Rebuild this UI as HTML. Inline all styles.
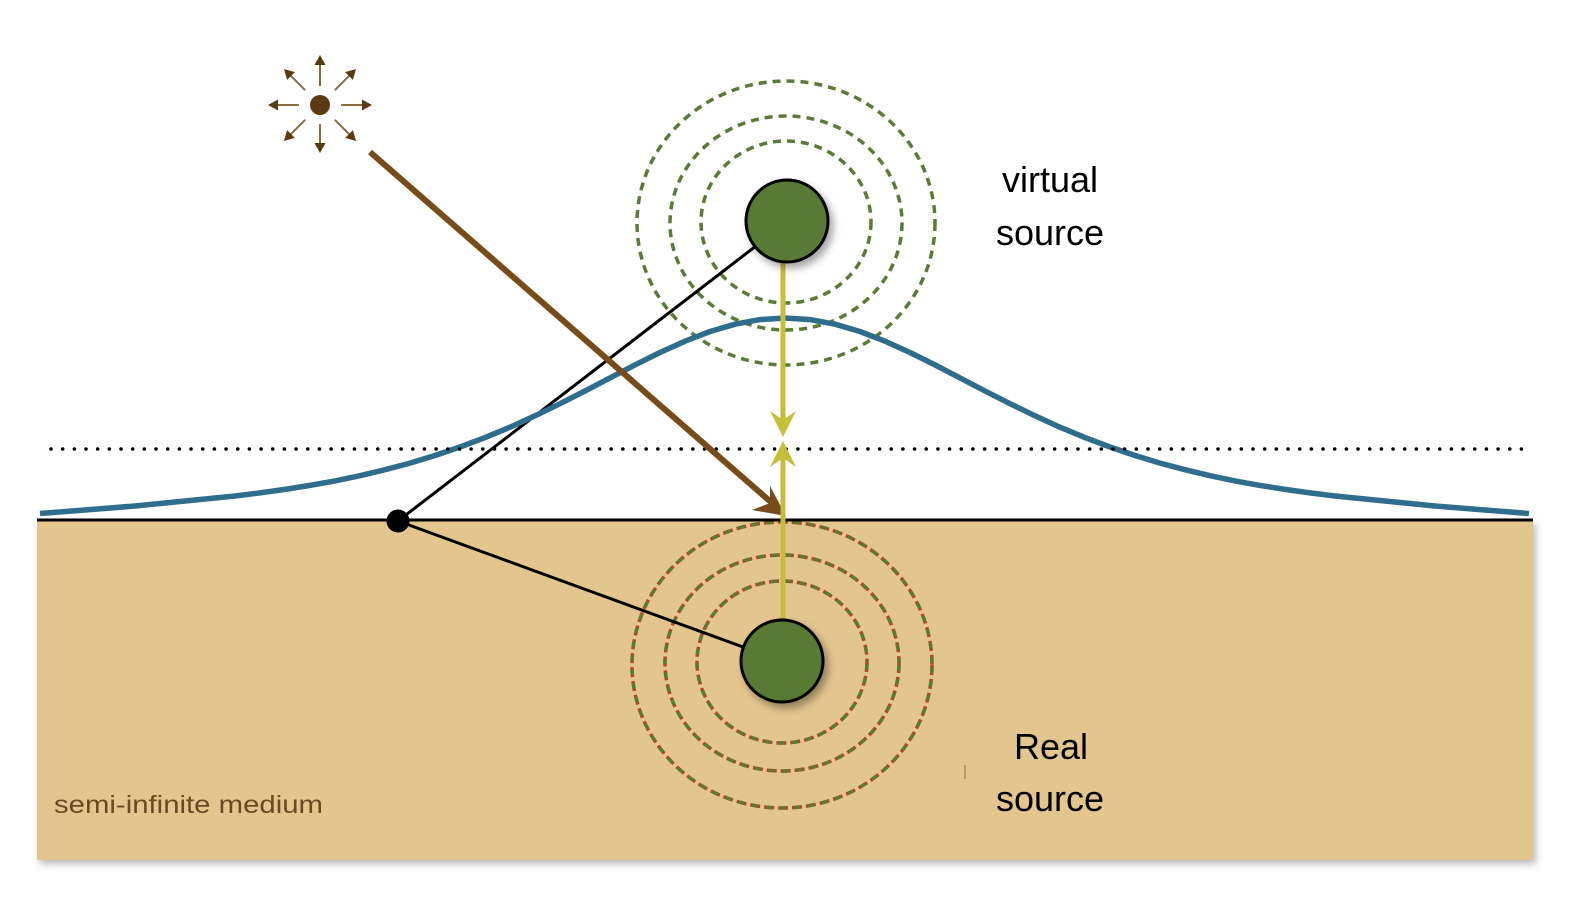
<!DOCTYPE html>
<html>
<head>
<meta charset="utf-8">
<style>
  html,body{margin:0;padding:0;background:#ffffff;}
  svg{display:block;}
  text{font-family:"Liberation Sans", sans-serif;}
</style>
</head>
<body>
<svg width="1572" height="900" viewBox="0 0 1572 900" xmlns="http://www.w3.org/2000/svg">
  <defs>
    <filter id="rshadow" x="-5%" y="-5%" width="110%" height="115%">
      <feDropShadow dx="3" dy="4" stdDeviation="4" flood-color="#000" flood-opacity="0.28"/>
    </filter>
    <filter id="cshadow" x="-40%" y="-40%" width="180%" height="180%">
      <feDropShadow dx="4" dy="5" stdDeviation="4" flood-color="#000" flood-opacity="0.35"/>
    </filter>
  </defs>

  <!-- medium -->
  <rect x="37" y="520" width="1496" height="340" fill="#e3c58e" filter="url(#rshadow)"/>

  <!-- virtual source dashed circles -->
  <g fill="none" stroke="#5a7b35" stroke-width="3.5" stroke-dasharray="8 6">
    <ellipse cx="786" cy="223" rx="149" ry="142"/>
    <ellipse cx="786" cy="223" rx="116" ry="107"/>
    <ellipse cx="786" cy="222" rx="85" ry="81"/>
  </g>

  <!-- real source dashed circles (red under green) -->
  <g fill="none" stroke="#b4452a" stroke-width="3.5" stroke-dasharray="10 4">
    <ellipse cx="782" cy="665" rx="150" ry="143"/>
    <ellipse cx="782" cy="663" rx="117" ry="108"/>
    <ellipse cx="782" cy="662" rx="85" ry="81"/>
  </g>
  <g fill="none" stroke="#5a7b35" stroke-width="3.5" stroke-dasharray="6 8" stroke-dashoffset="-2">
    <ellipse cx="782" cy="665" rx="150" ry="143"/>
    <ellipse cx="782" cy="663" rx="117" ry="108"/>
    <ellipse cx="782" cy="662" rx="85" ry="81"/>
  </g>

  <!-- black lines from detector point -->
  <line x1="398" y1="521" x2="756" y2="246" stroke="#000" stroke-width="3"/>
  <line x1="398" y1="521" x2="743" y2="647" stroke="#000" stroke-width="3"/>

  <!-- blue curve -->
  <polyline fill="none" stroke="#2e6d8c" stroke-width="5.5" stroke-linejoin="round" stroke-linecap="butt"
    points="40,513.5 85,510 135,506 185,501 235,496 260,492.9 285,489.4 310,485.4 335,480.9 360,475.7 385,469.7 410,463.1 435,455.5 460,447 485,437.6 510,427.2 535,415.8 560,403.7 585,391 610,377.9 635,364.9 660,352.5 685,341.2 710,331.5 735,324.2 760,319.6 785,318 810,319.6 835,324.2 860,331.5 885,341.2 910,352.5 935,364.9 960,377.9 985,391 1010,403.7 1035,415.8 1060,427.2 1085,437.6 1110,447 1135,455.5 1160,463.1 1185,469.7 1210,475.7 1235,480.9 1260,485.4 1285,489.4 1310,492.9 1335,496 1385,501 1435,506 1485,510 1529,513.5"/>

  <!-- dotted line -->
  <line x1="51" y1="449" x2="1525" y2="449" stroke="#000" stroke-width="3.6" stroke-linecap="round" stroke-dasharray="0 11.67"/>

  <!-- surface line -->
  <line x1="37" y1="520" x2="1533" y2="520" stroke="#000" stroke-width="3"/>

  <!-- brown incident arrow -->
  <line x1="370" y1="152" x2="772" y2="503" stroke="#774c1a" stroke-width="6"/>
  <polygon points="786,516 752,510 770,503 770,486" fill="#774c1a"/>

  <!-- yellow lines and arrows -->
  <g fill="#c6bd3c" stroke="none">
    <rect x="780.5" y="258" width="5" height="162"/>
    <polygon points="783,437 770,411 783,420 796,411"/>
    <rect x="780.5" y="457" width="5" height="165"/>
    <polygon points="783,441 770,467 783,458 796,467"/>
  </g>

  <!-- sources -->
  <circle cx="787" cy="221" r="41" fill="#587a34" stroke="#000" stroke-width="3" filter="url(#cshadow)"/>
  <circle cx="782" cy="661" r="41" fill="#587a34" stroke="#000" stroke-width="3" filter="url(#cshadow)"/>

  <!-- detector dot -->
  <circle cx="398" cy="521" r="11.5" fill="#000"/>

  <!-- light source icon -->
  <circle cx="320" cy="105" r="10" fill="#5a3a12"/>
  <g transform="translate(320,105)" stroke="#8b6b42" stroke-width="2" fill="#5a3a12">
    <g transform="rotate(0)"><line x1="21" y1="0" x2="44" y2="0"/><polygon points="52,0 42,-5.5 42,5.5" stroke="none"/></g>
    <g transform="rotate(45)"><line x1="21" y1="0" x2="43" y2="0"/><polygon points="51,0 41,-5.5 41,5.5" stroke="none"/></g>
    <g transform="rotate(90)"><line x1="19" y1="0" x2="40" y2="0"/><polygon points="48,0 38,-5.5 38,5.5" stroke="none"/></g>
    <g transform="rotate(135)"><line x1="21" y1="0" x2="43" y2="0"/><polygon points="51,0 41,-5.5 41,5.5" stroke="none"/></g>
    <g transform="rotate(180)"><line x1="21" y1="0" x2="44" y2="0"/><polygon points="52,0 42,-5.5 42,5.5" stroke="none"/></g>
    <g transform="rotate(225)"><line x1="21" y1="0" x2="43" y2="0"/><polygon points="51,0 41,-5.5 41,5.5" stroke="none"/></g>
    <g transform="rotate(270)"><line x1="19" y1="0" x2="42" y2="0"/><polygon points="50,0 40,-5.5 40,5.5" stroke="none"/></g>
    <g transform="rotate(315)"><line x1="21" y1="0" x2="43" y2="0"/><polygon points="51,0 41,-5.5 41,5.5" stroke="none"/></g>
  </g>

  <!-- labels -->
  <text x="1050" y="192" font-size="36" fill="#000" text-anchor="middle">virtual</text>
  <text x="1050" y="245" font-size="36" fill="#000" text-anchor="middle">source</text>
  <text x="1051" y="759" font-size="36" fill="#000" text-anchor="middle">Real</text>
  <text x="1050" y="811" font-size="36" fill="#000" text-anchor="middle">source</text>

  <line x1="965" y1="765" x2="965" y2="779" stroke="#9a7a50" stroke-width="1.2"/>

  <text x="54" y="813" font-size="25" fill="#6b4a22" textLength="269" lengthAdjust="spacingAndGlyphs">semi-infinite medium</text>
</svg>
</body>
</html>
